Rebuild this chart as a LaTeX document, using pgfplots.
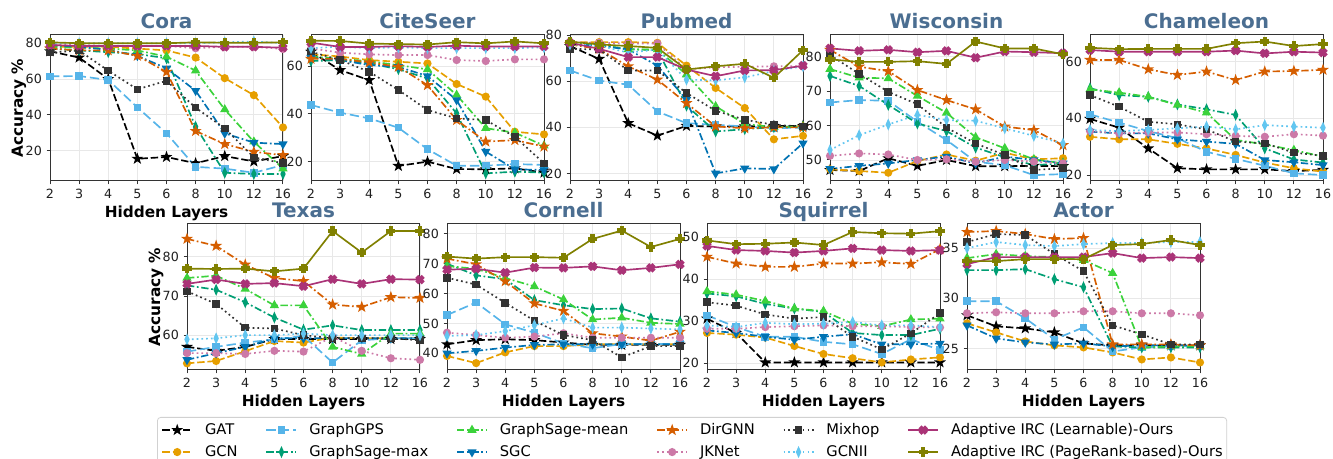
\documentclass[border=0pt]{standalone}
\usepackage{fontspec}
\setmainfont{DejaVu Sans}
\usepackage{pgfplots}
\usepackage{pgfplotstable}
\pgfplotsset{compat=1.18}

\definecolor{cGCN}{HTML}{E69F00}
\definecolor{cGPS}{HTML}{56B4E9}
\definecolor{cSmax}{HTML}{009E73}
\definecolor{cSmean}{HTML}{3BD23B}
\definecolor{cSGC}{HTML}{0072B2}
\definecolor{cDir}{HTML}{D55E00}
\definecolor{cJK}{HTML}{CC79A7}
\definecolor{cMix}{HTML}{333333}
\definecolor{cGCNII}{HTML}{62C6F0}
\definecolor{cLearn}{HTML}{AA3377}
\definecolor{cPR}{HTML}{808000}
\definecolor{ttl}{RGB}{75,110,145}

\pgfdeclareplotmark{fstar}{%
  \pgfpathmoveto{\pgfpointpolar{90}{\pgfplotmarksize}}%
  \pgfpathlineto{\pgfpointpolar{126}{0.4*\pgfplotmarksize}}%
  \pgfpathlineto{\pgfpointpolar{162}{\pgfplotmarksize}}%
  \pgfpathlineto{\pgfpointpolar{198}{0.4*\pgfplotmarksize}}%
  \pgfpathlineto{\pgfpointpolar{234}{\pgfplotmarksize}}%
  \pgfpathlineto{\pgfpointpolar{270}{0.4*\pgfplotmarksize}}%
  \pgfpathlineto{\pgfpointpolar{306}{\pgfplotmarksize}}%
  \pgfpathlineto{\pgfpointpolar{342}{0.4*\pgfplotmarksize}}%
  \pgfpathlineto{\pgfpointpolar{18}{\pgfplotmarksize}}%
  \pgfpathlineto{\pgfpointpolar{54}{0.4*\pgfplotmarksize}}%
  \pgfpathclose\pgfusepathqfillstroke}
\newcommand\plusshape{%
  \pgfpathmoveto{\pgfpoint{-0.35*\pgfplotmarksize}{-\pgfplotmarksize}}%
  \pgfpathlineto{\pgfpoint{0.35*\pgfplotmarksize}{-\pgfplotmarksize}}%
  \pgfpathlineto{\pgfpoint{0.35*\pgfplotmarksize}{-0.35*\pgfplotmarksize}}%
  \pgfpathlineto{\pgfpoint{\pgfplotmarksize}{-0.35*\pgfplotmarksize}}%
  \pgfpathlineto{\pgfpoint{\pgfplotmarksize}{0.35*\pgfplotmarksize}}%
  \pgfpathlineto{\pgfpoint{0.35*\pgfplotmarksize}{0.35*\pgfplotmarksize}}%
  \pgfpathlineto{\pgfpoint{0.35*\pgfplotmarksize}{\pgfplotmarksize}}%
  \pgfpathlineto{\pgfpoint{-0.35*\pgfplotmarksize}{\pgfplotmarksize}}%
  \pgfpathlineto{\pgfpoint{-0.35*\pgfplotmarksize}{0.35*\pgfplotmarksize}}%
  \pgfpathlineto{\pgfpoint{-\pgfplotmarksize}{0.35*\pgfplotmarksize}}%
  \pgfpathlineto{\pgfpoint{-\pgfplotmarksize}{-0.35*\pgfplotmarksize}}%
  \pgfpathlineto{\pgfpoint{-0.35*\pgfplotmarksize}{-0.35*\pgfplotmarksize}}%
  \pgfpathclose\pgfusepathqfillstroke}
\pgfdeclareplotmark{fplus}{\plusshape}
\pgfdeclareplotmark{fX}{\pgftransformrotate{45}\plusshape}

\pgfplotsset{
  lw/.style={line width=1.25pt},
  dsh/.style={dash pattern=on 5.5pt off 2.2pt},
  dshd/.style={dash pattern=on 5.5pt off 2pt on 1.3pt off 2pt},
  dtt/.style={dash pattern=on 1.3pt off 2.3pt},
  sGAT/.style={color=black, lw, dsh, mark=fstar, mark size=2.8pt, mark options={solid, fill=black}},
  sGCN/.style={color=cGCN, lw, dsh, mark=*, mark size=2.4pt, mark options={solid, fill=cGCN}},
  sGPS/.style={color=cGPS, lw, dash pattern=on 7pt off 3pt, mark=square*, mark size=2.2pt, mark options={solid, fill=cGPS}},
  sSmax/.style={color=cSmax, lw, dshd, mark=diamond*, mark size=3pt, mark options={solid, fill=cSmax, xscale=0.6}},
  sSmean/.style={color=cSmean, lw, dshd, mark=triangle*, mark size=2.8pt, mark options={solid, fill=cSmean}},
  sSGC/.style={color=cSGC, lw, dshd, mark=triangle*, mark size=2.8pt, mark options={solid, fill=cSGC, rotate=180}},
  sDir/.style={color=cDir, lw, dshd, mark=fstar, mark size=2.8pt, mark options={solid, fill=cDir}},
  sJK/.style={color=cJK, lw, dtt, mark=*, mark size=2.4pt, mark options={solid, fill=cJK}},
  sMix/.style={color=cMix, lw, dtt, mark=square*, mark size=2.2pt, mark options={solid, fill=cMix}},
  sGCNII/.style={color=cGCNII, lw, dtt, mark=diamond*, mark size=3pt, mark options={solid, fill=cGCNII, xscale=0.6}},
  sLearn/.style={color=cLearn, lw, solid, mark=fX, mark size=2.8pt, mark options={solid, fill=cLearn}},
  sPR/.style={color=cPR, lw, solid, mark=fplus, mark size=2.8pt, mark options={solid, fill=cPR}},
  panel/.style={
    scale only axis, width=174.75pt, height=109.5pt, anchor=south west,
    xmin=0, xmax=8, xtick={0,...,8}, xticklabels={2,3,4,5,6,8,10,12,16},
    grid=major, major grid style={draw=black!9, line width=0.6pt},
    axis line style={draw=black!80, line width=0.75pt},
    tick align=outside, tick pos=left, major tick length=2.6pt,
    every tick/.style={draw=black!80, line width=0.75pt},
    tick label style={font=\fontsize{9.5}{11}\selectfont, text=black!88},
    /pgf/number format/assume math mode=true,
    every axis title/.style={at={(axis description cs:0.5,1)}, anchor=base, yshift=4.5pt, font=\fontsize{15}{18}\selectfont\bfseries, text=ttl},
    every axis x label/.style={at={(axis description cs:0.5,0)}, anchor=base, yshift=-27.75pt, font=\fontsize{11.5}{14}\selectfont\bfseries},
    every axis y label/.style={at={(axis description cs:0,0.5)}, xshift=-20.25pt, rotate=90, anchor=base, font=\fontsize{11.5}{14}\selectfont\bfseries},
  },
}

\newcommand\plotall[1]{%
  \addplot[sGAT] table[x expr=\coordindex, y=GAT]{#1};
  \addplot[sGCN] table[x expr=\coordindex, y=GCN]{#1};
  \addplot[sGPS] table[x expr=\coordindex, y=GPS]{#1};
  \addplot[sSmax] table[x expr=\coordindex, y=Smax]{#1};
  \addplot[sSmean] table[x expr=\coordindex, y=Smean]{#1};
  \addplot[sSGC] table[x expr=\coordindex, y=SGC]{#1};
  \addplot[sDir] table[x expr=\coordindex, y=Dir]{#1};
  \addplot[sJK] table[x expr=\coordindex, y=JK]{#1};
  \addplot[sMix] table[x expr=\coordindex, y=Mix]{#1};
  \addplot[sGCNII] table[x expr=\coordindex, y=GCNII]{#1};
  \addplot[sLearn] table[x expr=\coordindex, y=Learn]{#1};
  \addplot[sPR] table[x expr=\coordindex, y=PR]{#1};
}

\pgfplotstableread{
L GAT GCN GPS Smax Smean SGC Dir JK Mix GCNII Learn PR
2 75.5 78 61.5 77 78 79 77 79 74.8 80 79 80.5
3 72 78 61.7 76 77.5 78 76 79 75.9 80 78.5 80
4 60 78 59.5 75 77 76.3 76 78.5 64.7 80 78.5 80
5 15.5 77 44.2 74 76 73 73 78.5 54.3 80 78.5 80
6 16.5 76 29.7 71.6 72.5 66 64 78.5 59 80 78.5 80
8 13 72 11 33.4 64.7 53.5 31 77.2 44 80 78.5 80.5
10 17 60.5 10 7.7 43 29.7 23.7 78 32.5 80.5 78 80.3
12 14 51 7.7 7 25 24.5 19.4 78 16.3 81 78 80.3
16 17 33 12 7 10 23.7 17.5 76.8 13 80 77.5 80.5
}\cora
\pgfplotstableread{
L GAT GCN GPS Smax Smean SGC Dir JK Mix GCNII Learn PR
2 66 65 43.7 62.1 64 63.5 63 67.4 66 67.5 69.8 70.6
3 58.3 64 40.5 62.5 63 62.5 63 65.6 62.5 68.1 68 70.5
4 54.1 62.5 38.1 61.1 62 60.4 61.5 64.9 57.6 67.5 68 69.4
5 18.2 61.8 34.2 58.7 60.4 59.7 59.7 64.6 50 67.8 68.3 69.2
6 20 61.1 25.2 54.8 58.6 55.8 52 64.6 41.6 67.5 68 69
8 16.9 52.5 18.3 40.2 47.9 45.8 37.4 62.5 38.1 67.5 68.5 70
10 16.8 47.2 18.3 15.1 34 24.2 28.4 62.1 37.4 67.5 68.2 69.5
12 17.2 32.5 19 15.8 32.1 16.8 29 62.8 30.4 67.5 68.2 70.3
16 15.4 31.4 18.6 15.4 26.7 16.5 26.3 62.8 19.3 67.8 68.2 69.5
}\citeseer
\pgfplotstableread{
L GAT GCN GPS Smax Smean SGC Dir JK Mix GCNII Learn PR
2 75.3 77 64.7 76 76.5 76 76 77 74.1 76 76.7 77.2
3 69.7 77 60.3 75.5 76 75.5 74 76.7 73.8 75.5 74.1 76
4 41.8 77 58.5 74 73.8 73.8 66.5 76.4 64.7 72.4 70.5 75.3
5 36.4 76.7 46.9 73.5 73.8 66.8 60.7 76.4 64.7 73.8 70.5 74.5
6 40.6 66.8 41.8 49.4 62.9 52 50.5 65.1 54.9 60.7 65.1 65.1
8 40.4 57.1 41.1 38.2 49.1 20 40.4 66.1 47.2 60.4 62.2 66.5
10 40.4 48.4 40.4 39.2 41.5 22.2 39.6 66.3 43.3 61.7 64.7 67.6
12 40.6 34.8 39.6 40.1 40.1 21.9 40 66.5 41.1 64.4 64.8 61.5
16 40.6 36.3 39.9 40.4 40.4 33.1 40 66.5 40.4 66.5 66.8 73.5
}\pubmed
\pgfplotstableread{
L GAT GCN GPS Smax Smean SGC Dir JK Mix GCNII Learn PR
2 47.1 47.3 66.7 74.4 76.4 47.4 82 51.2 80.5 52.9 82.4 79.2
3 46.8 46.8 67.4 71.5 73.9 48.3 77.1 51.9 75 57.2 81.7 78.5
4 50.5 46.3 67.2 66 73.7 49 75.8 51.6 69.8 60.3 82 78.5
5 48.3 49.7 61.1 60.6 68.6 50 70.3 50 66.2 63.1 81.3 78.7
6 50 51.6 55.8 58.4 63.7 51 67.4 50.2 59.4 61.6 81.7 77.9
8 48.2 49.8 49.5 53.6 56.6 49 64.7 49.5 54.8 61.4 79.7 84.4
10 48.2 52.1 48.5 50.8 53.4 51 59.7 50 51.4 59.2 81.5 82.4
12 48.3 50.2 45.6 48.5 50.2 50 58.7 49.5 47.1 57 81.3 82.4
16 48.2 50.5 45.9 49 49 49 54.3 49 47.6 54.8 81 80.7
}\wisconsin
\pgfplotstableread{
L GAT GCN GPS Smax Smean SGC Dir JK Mix GCNII Learn PR
2 39.8 33.5 41.4 50.6 50.2 35.3 60.6 35.5 48.2 35.9 64.1 64.9
3 36.7 32.6 38.5 48.2 49.1 34.7 60.6 34.7 44.1 35.5 63.5 64.4
4 29.4 32.6 35.5 47.6 47.6 34.7 57.3 35 38.8 35.9 63.5 64.5
5 22.4 31 33 44.9 44.7 32.6 55.3 35 37.9 36.5 63.5 64.5
6 22 29.4 28.2 43.2 42 31.8 56.5 34.4 36.1 37.1 63.5 64.5
8 22 27.1 25.7 41.2 32.4 31 53.5 33.8 31.8 36.1 63.9 66.5
10 22 24.4 23.3 29.4 30.8 25.3 56.5 33.5 31.2 37.6 62.9 67.1
12 21.4 22.4 20.6 25.5 28.8 24.5 56.7 34.4 27.9 37.1 63.5 65.5
16 21.8 21.2 20 24.4 26.5 23.5 57.1 33.9 26.8 36.7 63.2 66.2
}\chameleon
\pgfplotstableread{
L GAT GCN GPS Smax Smean SGC Dir JK Mix GCNII Learn PR
2 57 52.8 55.8 72.7 74.6 53.7 84.6 55.4 71.2 58.9 73.1 77
3 56 53.4 57 71.6 75.2 55.4 82.8 55.4 68 59.2 74.2 76.9
4 57 55.9 58.1 68.4 71.8 57 78 55.2 61.9 60 73.1 77
5 59 58.5 58.9 64.5 67.6 59.2 74.6 56 61.7 60 73.3 76.3
6 59 58.1 59.8 61.4 67.6 59.2 73.8 55.8 60 60.4 72.5 77
8 59 59.4 53 62.5 57 59.2 67.8 59.6 59.2 60 74.3 86.6
10 59 59.2 58.7 61.3 55.2 59.2 67.2 56 59.2 60 73.1 81.1
12 59 59.2 59.2 61.3 60.4 59.2 69.7 54.1 59.2 60 74.3 86.6
16 59 59.2 59.2 61.3 60.4 59.2 69.5 53.7 58.7 60 74.2 86.6
}\texas
\pgfplotstableread{
L GAT GCN GPS Smax Smean SGC Dir JK Mix GCNII Learn PR
2 43 39.1 52.8 70 69.2 40 71.7 46.9 65.3 45.8 68 72.4
3 44.4 36.7 57 66.1 68.3 40.8 69.8 46.1 63 46.1 68.3 71.7
4 44.7 40.3 49.7 64.8 65.2 41.9 64.1 45.2 56.9 47.4 67 72.2
5 44.4 42.4 46.9 57.8 62.4 42.8 56.7 45.6 50.9 49.4 68.7 72.2
6 43.6 42.4 43.3 56.1 58 43 54.2 46.7 46.1 51.7 68.6 72
8 42.8 43 41.7 54.8 51.3 43 46.7 45.2 44.4 48.6 69.1 78.3
10 42.8 43 43.1 55 51.9 43 45.6 45.2 38.6 48.6 67.8 81.1
12 42.8 43 43.1 51.7 50.2 43 44.2 45.2 42.4 48.3 68.6 75.6
16 42.8 43 43.1 50.6 49.8 43 47.2 45.2 42.4 48 69.8 78.3
}\cornell
\pgfplotstableread{
L GAT GCN GPS Smax Smean SGC Dir JK Mix GCNII Learn PR
2 30.6 27.2 31.4 36.6 37.1 27.8 45.3 28.2 34.5 29 47.9 49.2
3 27.2 26.8 28.6 35.9 36.3 27.2 43.7 28.2 33.7 28.6 46.9 48.3
4 20.2 26.1 26.3 34.1 34.8 26.3 42.9 28.6 31.6 29.6 46.7 48.4
5 20.2 24.1 26.3 33 33 25.6 42.9 28.8 30.6 29.3 46.3 48.7
6 20.2 22.2 25.1 32.2 32.4 26.3 43.7 29 31 29.4 46.7 48.1
8 20.2 21.2 24.5 27.2 29.4 26.9 43.7 28.8 26.3 29.8 47.3 51.2
10 20.2 20.2 22.2 26.7 28.8 24.5 44 28.8 23.3 29 46.9 50.9
12 20.2 20.9 25.7 26.7 30.4 24.5 43.6 28.6 27.1 29 46.7 50.8
16 20.2 21.4 23.1 28.2 30.6 24.7 47.1 28.5 31.9 28.6 46.9 51.4
}\squirrel
\pgfplotstableread{
L GAT GCN GPS Smax Smean SGC Dir JK Mix GCNII Learn PR
2 28.3 27.5 29.7 32.8 34 27.3 36.6 28.5 35.6 35 33.4 33.7
3 27.2 26.6 29.7 32.8 34.4 26 36.7 28.6 36.4 35.6 34.1 33.7
4 27 25.7 28 32.9 34.2 25.6 36.4 28.5 36.3 35.3 34.1 33.9
5 26.6 25.3 25.9 31.9 34.1 25.4 35.9 28.5 34.4 35.2 34.1 33.9
6 25.5 25.1 27.1 31.1 33.8 25.5 36 28.7 32.7 35.4 34.1 33.9
8 25.3 24.6 24.7 25.2 32.5 25.2 25.4 28.7 27.3 35.5 34.5 35.3
10 25.3 23.9 25.1 25.1 25.1 25.3 25.4 28.5 26.4 35.5 34 35.4
12 25.3 24.1 25.2 25.1 25.2 25.3 25.4 28.5 25.4 35.6 34.1 35.8
16 25.3 23.6 25.2 25.1 25.2 25.3 25.3 28.3 25.4 35.6 34 35.3
}\actor

\begin{document}
\begin{tikzpicture}
\useasboundingbox (0,0) rectangle (999.75pt,344.25pt);
% top row
\begin{axis}[panel, at={(37.5pt,208.5pt)}, ymin=3.1, ymax=84.6, ytick={20,40,60,80}, title={Cora}, xlabel={Hidden Layers}, ylabel={Accuracy \%}]
\plotall{\cora}
\end{axis}
\begin{axis}[panel, at={(233.25pt,208.5pt)}, ymin=11.9, ymax=73, ytick={20,40,60}, title={CiteSeer}]
\plotall{\citeseer}
\end{axis}
\begin{axis}[panel, at={(427.5pt,208.5pt)}, ymin=16.7, ymax=80.1, ytick={20,40,60,80}, title={Pubmed}]
\plotall{\pubmed}
\end{axis}
\begin{axis}[panel, at={(622.5pt,208.5pt)}, ymin=43.9, ymax=86.3, ytick={50,60,70,80}, title={Wisconsin}]
\plotall{\wisconsin}
\end{axis}
\begin{axis}[panel, at={(817.5pt,208.5pt)}, ymin=17.9, ymax=69.4, ytick={20,40,60}, title={Chameleon}]
\plotall{\chameleon}
\end{axis}
% bottom row
\begin{axis}[panel, at={(140.25pt,66.75pt)}, ymin=51.1, ymax=88.4, ytick={60,70,80}, title={Texas}, xlabel={Hidden Layers}, ylabel={Accuracy \%}]
\plotall{\texas}
\end{axis}
\begin{axis}[panel, at={(335.25pt,66.75pt)}, ymin=34.4, ymax=83.3, ytick={40,50,60,70,80}, title={Cornell}, xlabel={Hidden Layers}]
\plotall{\cornell}
\end{axis}
\begin{axis}[panel, at={(530.25pt,66.75pt)}, ymin=18.4, ymax=53.1, ytick={20,30,40,50}, title={Squirrel}, xlabel={Hidden Layers}]
\plotall{\squirrel}
\end{axis}
\begin{axis}[panel, at={(725.25pt,66.75pt)}, ymin=22.85, ymax=37.4, ytick={25,30,35}, title={Actor}, xlabel={Hidden Layers}]
\plotall{\actor}
\end{axis}
% legend
\begin{axis}[at={(117.75pt,31.5pt)}, anchor=north west, scale only axis, width=10pt, height=10pt, hide axis,
  xmin=0, xmax=1, ymin=0, ymax=1, legend columns=6,
  legend image code/.code={\draw[mark repeat=2, mark phase=2, #1] plot coordinates {(0pt,0pt) (11.25pt,0pt) (22.5pt,0pt)};},
  legend style={at={(0,1)}, anchor=north west, draw=black!18, line width=0.6pt, rounded corners=2.5pt, fill=white,
    font=\fontsize{11}{13}\selectfont, inner xsep=3pt, inner ysep=4pt, row sep=5.5pt,
    nodes={inner sep=0pt, text height=8.5pt, text depth=2.5pt},
    /tikz/every odd column/.append style={column sep=9pt},
    /tikz/every even column/.append style={column sep=21pt}},
  legend cell align=left]
\addlegendimage{sGAT}\addlegendentry{GAT}
\addlegendimage{sGPS}\addlegendentry{GraphGPS}
\addlegendimage{sSmean}\addlegendentry{GraphSage-mean}
\addlegendimage{sDir}\addlegendentry{DirGNN}
\addlegendimage{sMix}\addlegendentry{Mixhop}
\addlegendimage{sLearn}\addlegendentry{Adaptive IRC (Learnable)-Ours}
\addlegendimage{sGCN}\addlegendentry{GCN}
\addlegendimage{sSmax}\addlegendentry{GraphSage-max}
\addlegendimage{sSGC}\addlegendentry{SGC}
\addlegendimage{sJK}\addlegendentry{JKNet}
\addlegendimage{sGCNII}\addlegendentry{GCNII}
\addlegendimage{sPR}\addlegendentry{Adaptive IRC (PageRank-based)-Ours}
\end{axis}
\end{tikzpicture}
\end{document}
